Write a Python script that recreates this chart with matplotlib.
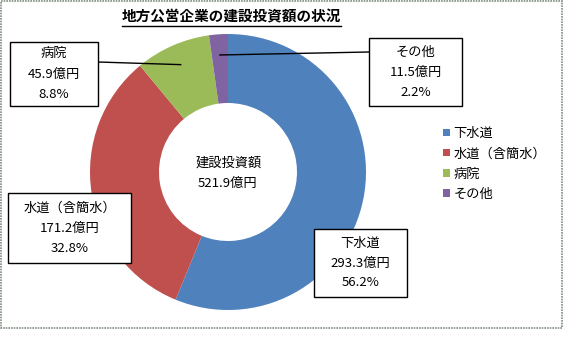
import matplotlib.pyplot as plt
from matplotlib.patches import Rectangle
import numpy as np

plt.rcParams['font.family'] = ['Noto Sans CJK JP', 'DejaVu Sans']

categories = ["下水道", "水道（含簡水）", "病院", "その他"]
amounts = [293.3, 171.2, 45.9, 11.5]          # 億円
shares = [56.2, 32.8, 8.8, 2.2]               # %
total = 521.9
colors = ["#4F81BD", "#C0504D", "#9BBB59", "#8064A2"]

W, H = 572, 340
fig = plt.figure(figsize=(W / 100, H / 100), dpi=100)

# overlay in pixel coordinates (origin top-left)
ov = fig.add_axes([0, 0, 1, 1])
ov.set_xlim(0, W)
ov.set_ylim(H, 0)
ov.axis("off")
ov.add_patch(Rectangle((0.5, 0.5), 561.5, 327.5, fill=False,
                       edgecolor="#7f8f7f", lw=1.2, linestyle=(0, (1, 0.6))))

# donut
cx, cy, R = 228, 172, 138
pie_ax = fig.add_axes([(cx - R) / W, (H - cy - R) / H, 2 * R / W, 2 * R / H])
wedges, _ = pie_ax.pie(amounts, colors=colors, startangle=90, counterclock=False,
                       radius=1, wedgeprops=dict(width=0.5, linewidth=0))
pie_ax.set_xlim(-1, 1)
pie_ax.set_ylim(-1, 1)
pie_ax.set_zorder(1)
ov.set_zorder(2)
ov.patch.set_visible(False)

# title with underline
ov.text(231, 16, "地方公営企業の建設投資額の状況", ha="center", va="center",
        fontsize=10.5, fontweight="bold")
ov.plot([122, 341], [25.5, 25.5], color="black", lw=1)

# center text
ov.text(229, 163, "建設投資額", ha="center", va="center", fontsize=9.5)
ov.text(228, 183, f"{total}億円", ha="center", va="center", fontsize=9.5)

# leader lines for the two small slices
fracs = np.array(amounts) / sum(amounts)
ends = np.cumsum(fracs)
starts = ends - fracs
for i, anchor in [(2, (98, 62)), (3, (369, 52))]:
    ang = np.deg2rad(90 - 360 * (starts[i] + ends[i]) / 2)
    px = cx + 0.85 * R * np.cos(ang)
    py = cy - 0.85 * R * np.sin(ang)
    ov.plot([anchor[0], px], [anchor[1], py], color="black", lw=1)

# label boxes: (left, top, right, bottom)
boxes = [(314, 229, 407, 297), (8, 193, 131, 263), (10, 42, 98, 106), (369, 38, 462, 106)]
for name, amt, pct, (x0, y0, x1, y1) in zip(categories, amounts, shares, boxes):
    ov.add_patch(Rectangle((x0, y0), x1 - x0, y1 - y0, facecolor="white",
                           edgecolor="black", lw=1, zorder=3))
    mx, my = (x0 + x1) / 2, (y0 + y1) / 2
    for k, line in enumerate([name, f"{amt}億円", f"{pct}%"]):
        ov.text(mx, my + (k - 1) * 20, line, ha="center", va="center",
                fontsize=9.5, zorder=4)

# legend
fig.legend(wedges, categories, loc="upper left", bbox_to_anchor=(443 / W, 1 - 127 / H),
           frameon=False, fontsize=9.5, handlelength=0.5, handleheight=0.5,
           handletextpad=0.3, labelspacing=0.55, borderaxespad=0, borderpad=0)

fig.savefig("out.png", dpi=100)
